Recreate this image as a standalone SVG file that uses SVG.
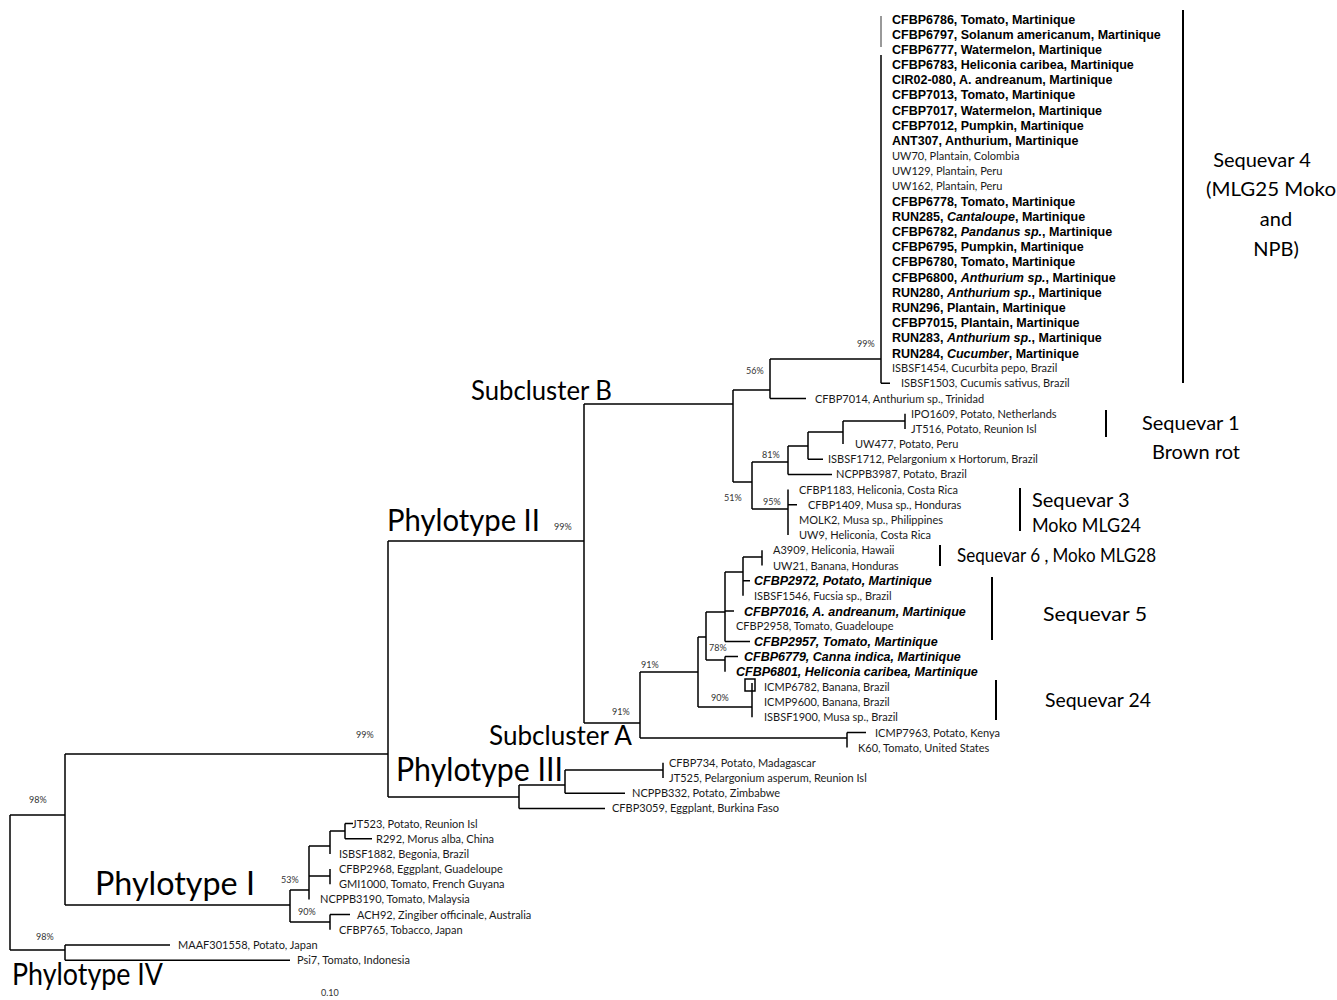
<svg xmlns="http://www.w3.org/2000/svg" width="1337" height="1000" viewBox="0 0 1337 1000">
<style>
.t{font-family:Lato,"Open Sans",sans-serif;font-size:11px;fill:#1a1a1a}
.b{font-family:"Liberation Sans",Arial,sans-serif;font-size:12.5px;font-weight:bold;fill:#000}
.bi{font-family:"Liberation Sans",Arial,sans-serif;font-size:12.5px;font-weight:bold;font-style:italic;fill:#000}
.i{font-style:italic}
.bs{font-family:Lato,"Open Sans",sans-serif;font-size:9px;fill:#333}
.big{font-family:Lato,"Open Sans",sans-serif;fill:#000}
.sq{font-family:Lato,"Open Sans",sans-serif;font-size:20px;fill:#000}
.tree{fill:none;stroke:#000;stroke-width:1.5}
.br{fill:none;stroke:#000;stroke-width:2}
</style>
<rect width="1337" height="1000" fill="#fff"/>
<g id="connectors" class="tree">
<path d="M10 815V950M10 815H65M65 754V905M65 754H388M65 905H290M10 950H65M65 945V960.2M65 945H170M65 960.2H290"/>
<path d="M388 541V797M388 541H584M388 797H519M519 785V808.4M519 785H565M519 808.4H605M565 770V793.2M565 770H663M565 793.2H625M663 762.8V778"/>
<path d="M584 404V723M584 404H733M733 390V482M733 390H770M770 359V398.5M770 359H881M770 398.5H806M881 55V383.3M881 383.3H890"/>
<path d="M881 16V47" stroke="#555" stroke-width="1.2"/>
<path d="M733 482H752M752 462V509M752 462H788M788 446V474.4M788 474.4H832M788 446H808M808 432V459.2M808 459.2H823M808 432H843M843 421V444M843 421H905M905 413.7V428.9"/>
<path d="M752 509H788M788 489.6V535.1M788 504.8H797"/>
<path d="M584 723H640M640 738H847M640 672V738M847 732.5V747.6M847 732.5H866M640 672H698M698 637V707M698 637H706M706 612V660M706 612H725M725 572V641.4M725 611H734M725 641.4H750M725 572H743M743 557V595.8M743 580.7H750M743 557H762M762 550.3V565.5M706 660H725M725 656.6V671.7M725 656.6H738M698 707H752M752 683V717.3"/>
<rect x="745" y="679" width="10" height="12"/>
<path d="M290 890V922M290 890H309M309 846V899.4M309 846H330M330 831V853.9M330 831H345M345 823.5V838.7M345 823.5H353M345 838.7H372M309 876H330M330 869.1V884.3M290 922H330M330 914.6V929.8M330 914.6H350"/>
</g>
<g id="brackets" class="br">
<path d="M1183 10V383M1106 410V437M1020 488V531M940 545V566M992 577V640M996 680V720"/>
</g>
<g id="bootstrap" class="bs">
<text x="29" y="803">98%</text>
<text x="356" y="738">99%</text>
<text x="554" y="530">99%</text>
<text x="746" y="374">56%</text>
<text x="857" y="347">99%</text>
<text x="762" y="458">81%</text>
<text x="724" y="501">51%</text>
<text x="763" y="505">95%</text>
<text x="641" y="668">91%</text>
<text x="709" y="651">78%</text>
<text x="711" y="701">90%</text>
<text x="612" y="715">91%</text>
<text x="281" y="883">53%</text>
<text x="298" y="915">90%</text>
<text x="36" y="940">98%</text>
<text x="321" y="996">0.10</text>
</g>
<g id="clade-labels" class="big">
<text x="471" y="400" font-size="26" textLength="141" lengthAdjust="spacingAndGlyphs">Subcluster B</text>
<text x="387" y="531" font-size="30" textLength="153" lengthAdjust="spacingAndGlyphs">Phylotype II</text>
<text x="489" y="745" font-size="26" textLength="143" lengthAdjust="spacingAndGlyphs">Subcluster A</text>
<text x="396" y="781" font-size="33" textLength="167" lengthAdjust="spacingAndGlyphs">Phylotype III</text>
<text x="95" y="895" font-size="32" textLength="160" lengthAdjust="spacingAndGlyphs">Phylotype I</text>
<text x="12" y="985" font-size="31" textLength="151" lengthAdjust="spacingAndGlyphs">Phylotype IV</text>
</g>
<g id="sequevars" class="sq">
<text x="1262" y="167" text-anchor="middle">Sequevar 4</text>
<text x="1206" y="196" textLength="130" lengthAdjust="spacingAndGlyphs">(MLG25 Moko</text>
<text x="1276" y="226" text-anchor="middle">and</text>
<text x="1276" y="256" text-anchor="middle">NPB)</text>
<text x="1142" y="430">Sequevar 1</text>
<text x="1152" y="459">Brown rot</text>
<text x="1032" y="507">Sequevar 3</text>
<text x="1032" y="532" textLength="109" lengthAdjust="spacingAndGlyphs">Moko MLG24</text>
<text x="957" y="562" textLength="199" lengthAdjust="spacingAndGlyphs">Sequevar 6 , Moko MLG28</text>
<text x="1043" y="621" textLength="104" lengthAdjust="spacingAndGlyphs">Sequevar 5</text>
<text x="1045" y="707" textLength="106" lengthAdjust="spacingAndGlyphs">Sequevar 24</text>
</g>
<g id="sequevar4-taxa">
<text class="b" x="892" y="23.5">CFBP6786, Tomato, Martinique</text>
<text class="b" x="892" y="38.7">CFBP6797, Solanum americanum, Martinique</text>
<text class="b" x="892" y="53.9">CFBP6777, Watermelon, Martinique</text>
<text class="b" x="892" y="69">CFBP6783, Heliconia caribea, Martinique</text>
<text class="b" x="892" y="84.2">CIR02-080, A. andreanum, Martinique</text>
<text class="b" x="892" y="99.4">CFBP7013, Tomato, Martinique</text>
<text class="b" x="892" y="114.6">CFBP7017, Watermelon, Martinique</text>
<text class="b" x="892" y="129.8">CFBP7012, Pumpkin, Martinique</text>
<text class="b" x="892" y="144.9">ANT307, Anthurium, Martinique</text>
<text class="t" x="892" y="159.6">UW70, Plantain, Colombia</text>
<text class="t" x="892" y="174.8">UW129, Plantain, Peru</text>
<text class="t" x="892" y="190">UW162, Plantain, Peru</text>
<text class="b" x="892" y="205.7">CFBP6778, Tomato, Martinique</text>
<text class="b" x="892" y="220.8">RUN285, <tspan class="i">Cantaloupe</tspan>, Martinique</text>
<text class="b" x="892" y="236">CFBP6782, <tspan class="i">Pandanus sp.</tspan>, Martinique</text>
<text class="b" x="892" y="251.2">CFBP6795, Pumpkin, Martinique</text>
<text class="b" x="892" y="266.4">CFBP6780, Tomato, Martinique</text>
<text class="b" x="892" y="281.6">CFBP6800, <tspan class="i">Anthurium sp.</tspan>, Martinique</text>
<text class="b" x="892" y="296.7">RUN280, <tspan class="i">Anthurium sp.</tspan>, Martinique</text>
<text class="b" x="892" y="311.9">RUN296, Plantain, Martinique</text>
<text class="b" x="892" y="327.1">CFBP7015, Plantain, Martinique</text>
<text class="b" x="892" y="342.3">RUN283, <tspan class="i">Anthurium sp.</tspan>, Martinique</text>
<text class="b" x="892" y="357.5">RUN284, <tspan class="i">Cucumber</tspan>, Martinique</text>
<text class="t" x="892" y="372.1">ISBSF1454, Cucurbita pepo, Brazil</text>
<text class="t" x="901" y="387.3">ISBSF1503, Cucumis sativus, Brazil</text>
<text class="t" x="815" y="402.5">CFBP7014, Anthurium sp., Trinidad</text>
</g>
<g id="subclusterB-taxa" class="t">
<text x="911" y="417.7">IPO1609, Potato, Netherlands</text>
<text x="911" y="432.9">JT516, Potato, Reunion Isl</text>
<text x="855" y="448">UW477, Potato, Peru</text>
<text x="828" y="463.2">ISBSF1712, Pelargonium x Hortorum, Brazil</text>
<text x="836" y="478.4">NCPPB3987, Potato, Brazil</text>
<text x="799" y="493.6">CFBP1183, Heliconia, Costa Rica</text>
<text x="808" y="508.8">CFBP1409, Musa sp., Honduras</text>
<text x="799" y="523.9">MOLK2, Musa sp., Philippines</text>
<text x="799" y="539.1">UW9, Heliconia, Costa Rica</text>
</g>
<g id="subclusterA-taxa">
<text class="t" x="773" y="554.3">A3909, Heliconia, Hawaii</text>
<text class="t" x="773" y="569.5">UW21, Banana, Honduras</text>
<text class="bi" x="754" y="585.2">CFBP2972, Potato, Martinique</text>
<text class="t" x="754" y="599.8">ISBSF1546, Fucsia sp., Brazil</text>
<text class="bi" x="744" y="615.5">CFBP7016, A. andreanum, Martinique</text>
<text class="t" x="736" y="630.2">CFBP2958, Tomato, Guadeloupe</text>
<text class="bi" x="754" y="645.9">CFBP2957, Tomato, Martinique</text>
<text class="bi" x="744" y="661.1">CFBP6779, Canna indica, Martinique</text>
<text class="bi" x="736" y="676.2">CFBP6801, Heliconia caribea, Martinique</text>
<text class="t" x="764" y="690.9">ICMP6782, Banana, Brazil</text>
<text class="t" x="764" y="706.1">ICMP9600, Banana, Brazil</text>
<text class="t" x="764" y="721.3">ISBSF1900, Musa sp., Brazil</text>
<text class="t" x="875" y="736.5">ICMP7963, Potato, Kenya</text>
<text class="t" x="858" y="751.6">K60, Tomato, United States</text>
</g>
<g id="phylotype3-taxa" class="t">
<text x="669" y="766.8">CFBP734, Potato, Madagascar</text>
<text x="669" y="782">JT525, Pelargonium asperum, Reunion Isl</text>
<text x="632" y="797.2">NCPPB332, Potato, Zimbabwe</text>
<text x="612" y="812.4">CFBP3059, Eggplant, Burkina Faso</text>
</g>
<g id="phylotype1-taxa" class="t">
<text x="352" y="827.5">JT523, Potato, Reunion Isl</text>
<text x="376" y="842.7">R292, Morus alba, China</text>
<text x="339" y="857.9">ISBSF1882, Begonia, Brazil</text>
<text x="339" y="873.1">CFBP2968, Eggplant, Guadeloupe</text>
<text x="339" y="888.3">GMI1000, Tomato, French Guyana</text>
<text x="320" y="903.4">NCPPB3190, Tomato, Malaysia</text>
<text x="357" y="918.6">ACH92, Zingiber officinale, Australia</text>
<text x="339" y="933.8">CFBP765, Tobacco, Japan</text>
</g>
<g id="phylotype4-taxa" class="t">
<text x="178" y="949">MAAF301558, Potato, Japan</text>
<text x="297" y="964.2">Psi7, Tomato, Indonesia</text>
</g>
</svg>
